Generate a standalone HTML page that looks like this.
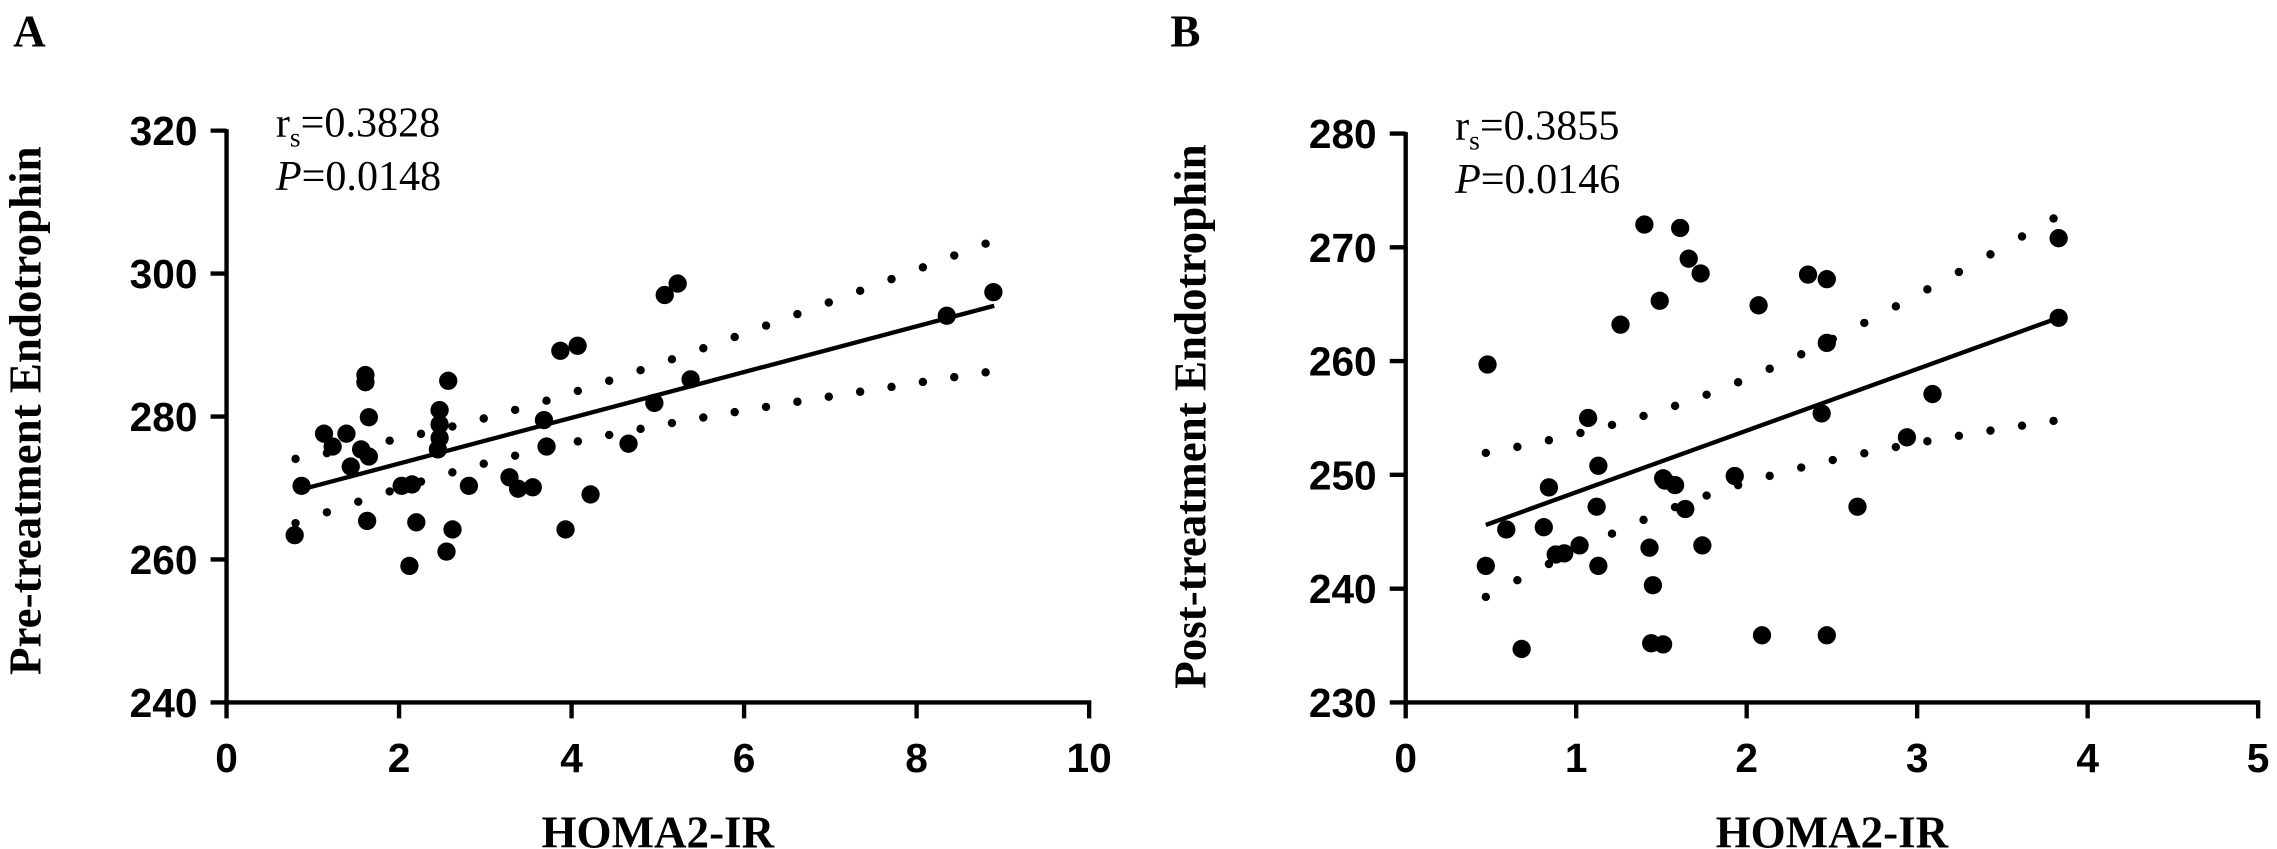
<!DOCTYPE html>
<html><head><meta charset="utf-8"><style>
html,body{margin:0;padding:0;background:#fff;}
svg{display:block;}
.tick{font-family:"Liberation Sans",Arial,sans-serif;font-weight:bold;font-size:28px;}
.title{font-family:"Liberation Serif",serif;font-weight:bold;font-size:31px;}
.stat{font-family:"Liberation Serif",serif;font-size:29px;}
</style></head><body>
<svg id="chart" width="2277" height="849" viewBox="0 0 1568 585" preserveAspectRatio="none" xmlns="http://www.w3.org/2000/svg">
<text x="9" y="32" class="title" font-size="37">A</text>
<text x="806" y="32" class="title" font-size="37">B</text>
<g id="pA"></g>
<g id="pB"></g>
</svg>
<script>
// Panel A data
const xTicksA = [0,2,4,6,8,10];
const yTicksA = [240,260,280,300,320];
const homaA = [0.79,0.87,1.13,1.23,1.39,1.44,1.56,1.61,1.61,1.63,1.65,1.65,2.03,2.15,2.12,2.2,2.45,2.47,2.47,2.47,2.55,2.57,2.62,2.81,3.28,3.38,3.55,3.68,3.71,3.87,3.93,4.07,4.22,4.66,4.96,5.08,5.23,5.38,8.35,8.89];
const endoA = [263.4,270.3,277.6,275.8,277.6,273,275.4,285.8,284.8,265.4,274.4,279.9,270.3,270.5,259.1,265.2,275.4,278.9,280.9,277,261.1,285,264.2,270.3,271.5,269.9,270.1,279.5,275.8,289.2,264.2,289.9,269.1,276.2,281.9,297,298.6,285.2,294.1,297.4];
const fitA = [0.87,269.8,8.9,295.5]; // x0,y0,x1,y1
const bandA = [3.0,10.0,2.11,0.8,8.8]; // center x, a, b, xmin, xmax
// Panel B data
const xTicksB = [0,1,2,3,4,5];
const yTicksB = [230,240,250,260,270,280];
const homaB = [0.47,0.48,0.59,0.68,0.81,0.84,0.88,0.93,1.02,1.07,1.12,1.13,1.13,1.26,1.40,1.43,1.45,1.44,1.49,1.51,1.52,1.51,1.58,1.61,1.64,1.66,1.73,1.74,1.93,2.07,2.09,2.36,2.47,2.47,2.44,2.47,2.65,2.94,3.09,3.83,3.83];
const endoB = [242,259.7,245.2,234.7,245.4,248.9,243,243.1,243.8,255,247.2,250.8,242,263.2,272,243.6,240.3,235.2,265.3,249.7,249.5,235.1,249.1,271.7,247,269,267.7,243.8,249.9,264.9,235.9,267.6,267.2,261.6,255.4,235.9,247.2,253.3,257.1,270.8,263.8];
const fitB = [0.47,245.6,3.83,263.8];
const bandB = [1.7,19.6,13.5,0.47,3.8];

const NS="http://www.w3.org/2000/svg";
function mk(parent,tag,attrs){const e=document.createElementNS(NS,tag);for(const k in attrs)e.setAttribute(k,attrs[k]);parent.appendChild(e);return e;}

function panel(g,o){
  const sx=v=>o.x0+(v-o.xmin)/(o.xmax-o.xmin)*(o.x1-o.x0);
  const sy=v=>o.y1-(v-o.ymin)/(o.ymax-o.ymin)*(o.y1-o.y0);
  let e=mk(g,'line',{x1:o.x0,y1:o.y0-1,x2:o.x0,y2:o.y1+1.5,stroke:'#000','stroke-width':3});
  
  
  e=mk(g,'line',{x1:o.x0-1.5,y1:o.y1,x2:o.x1+1.5,y2:o.y1,stroke:'#000','stroke-width':3});
  
  
  o.yt.forEach(v=>{
    const y=sy(v);
    mk(g,'line',{x1:o.x0-11,y1:y,x2:o.x0,y2:y,stroke:'#000','stroke-width':3});
    e=mk(g,'text',{x:o.x0-20,y:y+10,'text-anchor':'end',class:'tick'});e.textContent=v;
    
    
  });
  o.xt.forEach(v=>{
    const x=sx(v);
    mk(g,'line',{x1:x,y1:o.y1,x2:x,y2:o.y1+11,stroke:'#000','stroke-width':3});
    e=mk(g,'text',{x:x,y:o.y1+48,'text-anchor':'middle',class:'tick'});e.textContent=v;
    
    
  });
  e=mk(g,'text',{x:(o.x0+o.x1)/2,y:584,'text-anchor':'middle',class:'title'});e.textContent='HOMA2-IR';
  
  
  const cy=o.yc;
  e=mk(g,'text',{x:o.ytx,y:cy,'text-anchor':'middle',class:'title',transform:`rotate(-90 ${o.ytx} ${cy})`});e.textContent=o.ytitle;
  
  
  e=mk(g,'text',{x:o.x0+34,y:o.y0+4,class:'stat'});
  e.innerHTML='r<tspan font-size="19" dy="7">s</tspan><tspan dy="-7">='+o.r+'</tspan>';
  
  
  e=mk(g,'text',{x:o.x0+34,y:o.y0+41,class:'stat'});
  e.innerHTML='<tspan font-style="italic">P</tspan>='+o.p;
  
  
  const f=o.fit, slope=(f[3]-f[1])/(f[2]-f[0]);
  const fy=x=>f[1]+slope*(x-f[0]);
  const b=o.band, n=Math.round((sx(b[4])-sx(b[3]))/21.5);
  for(let i=0;i<=n;i++){
    const x=b[3]+(b[4]-b[3])*i/n, hw=Math.sqrt(b[1]+b[2]*(x-b[0])**2);
    e=mk(g,'circle',{cx:sx(x),cy:sy(fy(x)+hw),r:2.9,fill:'#000'});
    
    
    e=mk(g,'circle',{cx:sx(x),cy:sy(fy(x)-hw),r:2.9,fill:'#000'});
    
    
  }
  e=mk(g,'line',{x1:sx(f[0]),y1:sy(f[1]),x2:sx(f[2]),y2:sy(f[3]),stroke:'#000','stroke-width':3});
  
  
  o.xs.forEach((x,i)=>{
    e=mk(g,'circle',{cx:sx(x),cy:sy(o.ys[i]),r:6.3,fill:'#000'});
    
    
  });
}
panel(document.getElementById('pA'),{x0:156,x1:750,y0:90,y1:484,xmin:0,xmax:10,ymin:240,ymax:320,xt:xTicksA,yt:yTicksA,xs:homaA,ys:endoA,fit:fitA,band:bandA,ytx:28,yc:283,ytitle:'Pre-treatment Endotrophin',r:'0.3828',p:'0.0148'});
panel(document.getElementById('pB'),{x0:968,x1:1555,y0:92,y1:484,xmin:0,xmax:5,ymin:230,ymax:280,xt:xTicksB,yt:yTicksB,xs:homaB,ys:endoB,fit:fitB,band:bandB,ytx:830,yc:287,ytitle:'Post-treatment Endotrophin',r:'0.3855',p:'0.0146'});
</script>
</body></html>
